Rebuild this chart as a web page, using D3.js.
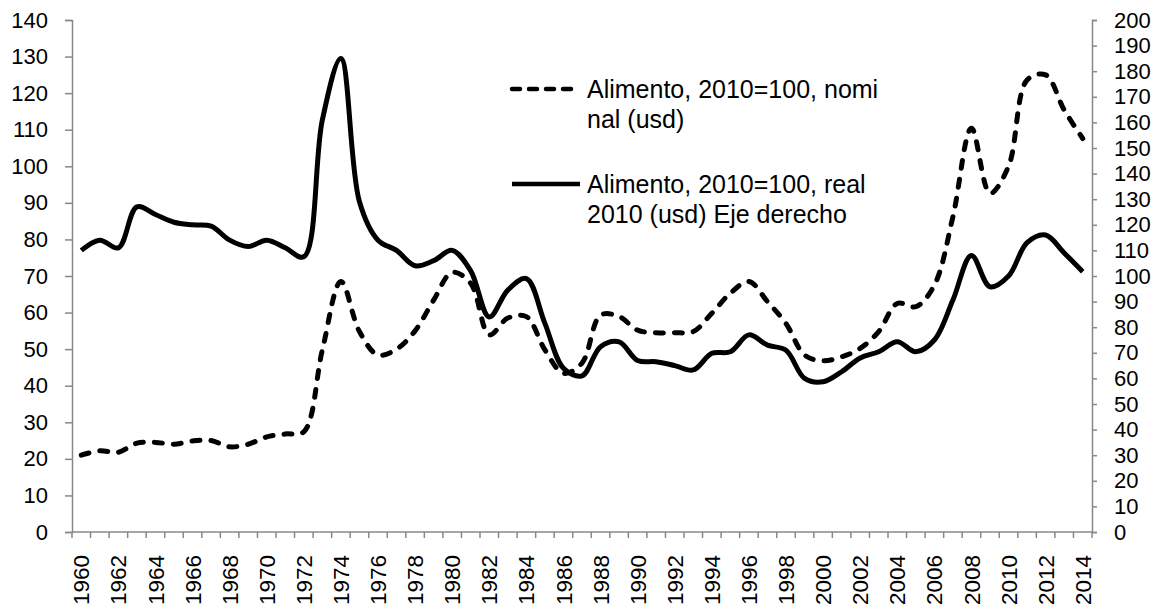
<!DOCTYPE html>
<html>
<head>
<meta charset="utf-8">
<script src="https://cdn.jsdelivr.net/npm/d3@7"></script>
<style>
  body { margin: 0; background: #fff; }
  text { font-family: "Liberation Sans", Arial, sans-serif; fill: #000; }
</style>
</head>
<body>
<div id="chart"></div>
<script>
const years = d3.range(1960, 2015);

// Alimento, 2010=100, nominal (usd) - left axis
const nominal = [
  21, 22.2, 21.8, 24.3, 24.5, 24, 24.9, 25, 23.3, 24,
  26, 26.8, 27.4, 49.8, 68.5, 54.8, 48.4, 50, 55, 63.4,
  71, 68, 53.9, 58.5, 58.9, 49.8, 43.4, 46.2, 59.3, 58.9,
  55.2, 54.5, 54.5, 54.8, 59.8, 65.3, 68.5, 63, 57, 48.4,
  46.8, 47.9, 50.2, 54.8, 62.5, 61.6, 67.5, 86.2, 110.4, 92.6,
  100, 123.6, 125, 115.4, 107.6
];

// Alimento, 2010=100, real 2010 (usd) - right axis
const real = [
  110, 114, 111, 127, 124, 121, 120, 119.5, 114, 111.5,
  114, 111, 107.5, 161, 185, 129, 114, 110, 104, 106,
  110, 102, 84, 94.5, 99, 81.5, 64, 61, 72.4, 74.3,
  67, 66.5, 65, 63.3, 69.8, 70.4, 77, 73, 71, 60,
  58.7, 62.6, 68, 70.4, 74.3, 70.4, 75, 90.6, 108, 95.8,
  100, 113, 116, 109, 101.7
];

const leftTicks = d3.range(0, 141, 10);
const rightTicks = d3.range(0, 201, 10);
const yearLabels = years.filter(y => y % 2 === 0);

const legendItems = [
  { lines: ["Alimento, 2010=100, nomi", "nal (usd)"], dash: true },
  { lines: ["Alimento, 2010=100, real", "2010 (usd) Eje derecho"], dash: false }
];

const width = 1163, height = 609;
const margin = { top: 20, right: 71, bottom: 77, left: 72 };
const innerW = width - margin.left - margin.right;
const innerH = height - margin.top - margin.bottom;
const axisGray = "#888888";

const svg = d3.select("#chart")
  .append("svg")
    .attr("width", width)
    .attr("height", height);

const g = svg.append("g")
  .attr("transform", `translate(${margin.left}, ${margin.top})`);

const x = d3.scaleBand()
  .domain(years)
  .range([0, innerW]);

const yLeft = d3.scaleLinear().domain([0, 140]).range([innerH, 0]);
const yRight = d3.scaleLinear().domain([0, 200]).range([innerH, 0]);

// left axis
const leftAxis = g.append("g")
  .call(d3.axisLeft(yLeft).tickValues(leftTicks).tickSize(7).tickPadding(17));
leftAxis.selectAll("text").style("font-size", "22px");

// right axis
const rightAxis = g.append("g")
  .attr("transform", `translate(${innerW}, 0)`)
  .call(d3.axisRight(yRight).tickValues(rightTicks).tickSize(5).tickPadding(17));
rightAxis.selectAll("text").style("font-size", "22px");

// bottom axis: ticks on category boundaries
const bottom = g.append("g")
  .attr("transform", `translate(0, ${innerH})`);
bottom.append("line")
  .attr("x1", 0).attr("x2", innerW)
  .attr("stroke", axisGray).attr("stroke-width", 1.5);
bottom.selectAll("line.tick")
  .data(years.concat([2015]))
  .enter()
  .append("line")
    .attr("class", "tick")
    .attr("x1", d => d === 2015 ? innerW : x(d))
    .attr("x2", d => d === 2015 ? innerW : x(d))
    .attr("y1", 0).attr("y2", 6)
    .attr("stroke", axisGray).attr("stroke-width", 1.5);
bottom.selectAll("text")
  .data(yearLabels)
  .enter()
  .append("text")
    .attr("transform", d => `translate(${x(d) + x.bandwidth() / 2}, 23) rotate(-90)`)
    .attr("text-anchor", "end")
    .attr("dy", "0.36em")
    .style("font-size", "22.5px")
    .text(d => d);

svg.selectAll(".domain, .tick line")
  .attr("stroke", axisGray)
  .attr("stroke-width", 1.5);
svg.selectAll(".tick text").attr("fill", "#000");

const lineLeft = d3.line()
  .x((d, i) => x(years[i]) + x.bandwidth() / 2)
  .y(d => yLeft(d))
  .curve(d3.curveCatmullRom);

const lineRight = d3.line()
  .x((d, i) => x(years[i]) + x.bandwidth() / 2)
  .y(d => yRight(d))
  .curve(d3.curveCatmullRom);

g.append("path")
  .datum(nominal)
  .attr("fill", "none")
  .attr("stroke", "#000")
  .attr("stroke-width", 5)
  .attr("stroke-linecap", "round")
  .attr("stroke-dasharray", "8,11")
  .attr("d", lineLeft);

g.append("path")
  .datum(real)
  .attr("fill", "none")
  .attr("stroke", "#000")
  .attr("stroke-width", 5)
  .attr("stroke-linejoin", "round")
  .attr("d", lineRight);

// legend
const legend = svg.append("g").attr("transform", "translate(510, 0)");
const legendRows = legend.selectAll("g")
  .data(legendItems)
  .enter()
  .append("g")
    .attr("transform", (d, i) => `translate(0, ${i === 0 ? 89 : 184})`);

legendRows.append("line")
  .attr("x1", 2).attr("x2", d => d.dash ? 62 : 70)
  .attr("stroke", "#000")
  .attr("stroke-width", 4.5)
  .attr("stroke-linecap", d => d.dash ? "round" : "butt")
  .attr("stroke-dasharray", d => d.dash ? "8,9" : null);

legendRows.append("text")
  .attr("x", 77)
  .attr("y", 9)
  .style("font-size", "25px")
  .selectAll("tspan")
  .data(d => d.lines)
  .enter()
  .append("tspan")
    .attr("x", 77)
    .attr("dy", (d, i) => i === 0 ? 0 : 30)
    .text(d => d);
</script>
</body>
</html>
